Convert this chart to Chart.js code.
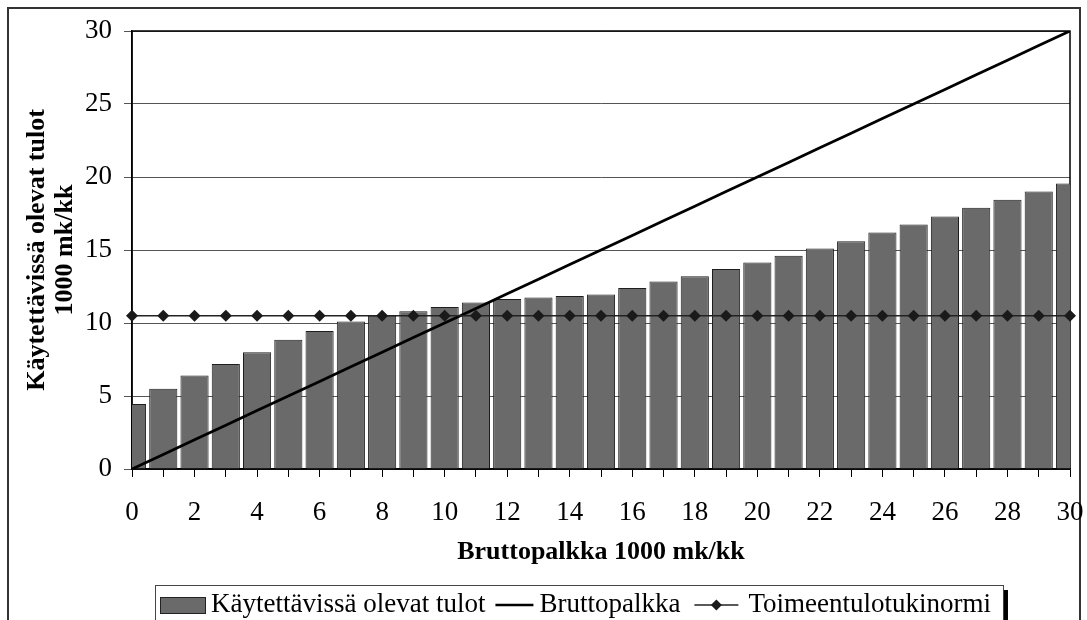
<!DOCTYPE html>
<html>
<head>
<meta charset="utf-8">
<script src="https://cdn.jsdelivr.net/npm/chart.js@4.4.1/dist/chart.umd.min.js"></script>
<style>
  html, body { margin: 0; padding: 0; background: #fff; }
  #wrap { width: 1087px; height: 620px; position: relative; }
</style>
</head>
<body>
<div id="wrap"><canvas id="kaavio"></canvas></div>
<script>
// bruttopalkka 1000 mk/kk (x-akseli)
const palkka = [0,1,2,3,4,5,6,7,8,9,10,11,12,13,14,15,16,17,18,19,20,21,22,23,24,25,26,27,28,29,30];
// käytettävissä olevat tulot
const tulot = [4.45,5.5,6.4,7.2,8.0,8.85,9.45,10.1,10.5,10.8,11.1,11.4,11.65,11.75,11.85,11.95,12.4,12.85,13.2,13.7,14.15,14.6,15.1,15.6,16.2,16.75,17.3,17.9,18.45,19.0,19.55];
// bruttopalkka viivana
const brutto = [0,1,2,3,4,5,6,7,8,9,10,11,12,13,14,15,16,17,18,19,20,21,22,23,24,25,26,27,28,29,30];
// toimeentulotukinormi
const normi = [10.5,10.5,10.5,10.5,10.5,10.5,10.5,10.5,10.5,10.5,10.5,10.5,10.5,10.5,10.5,10.5,10.5,10.5,10.5,10.5,10.5,10.5,10.5,10.5,10.5,10.5,10.5,10.5,10.5,10.5,10.5];
const sarjat = ['Käytettävissä olevat tulot', 'Bruttopalkka', 'Toimeentulotukinormi'];

const serif = '"Liberation Serif", "Times New Roman", serif';
const pisteet = arr => palkka.map((x, i) => ({ x: x, y: arr[i] }));

// kehys, piirtoalueen reunat ja selite
const kehys = {
  id: 'kehys',
  beforeDraw(chart) {
    const ctx = chart.ctx;
    ctx.save();
    ctx.fillStyle = '#fff';
    ctx.fillRect(0, 0, chart.width, chart.height);
    ctx.strokeStyle = '#333';
    ctx.lineWidth = 2;
    ctx.strokeRect(8, 8, 1072, 700);
    ctx.restore();
  },
  beforeDatasetsDraw(chart) {
    const a = chart.chartArea, ctx = chart.ctx;
    ctx.save();
    ctx.strokeStyle = '#000';
    ctx.lineWidth = 1.5;
    ctx.strokeRect(a.left, a.top, a.right - a.left, a.bottom - a.top);
    ctx.restore();
  },
  afterDraw(chart) {
    const ctx = chart.ctx;
    ctx.save();
    ctx.font = '27px ' + serif;
    ctx.textBaseline = 'middle';
    const y = 605;
    const w = sarjat.map(s => ctx.measureText(s).width);
    const loppu = 160 + 45 + 6 + w[0] + 10 + 38 + 6 + w[1] + 14 + 44 + 10 + w[2];
    // laatikko ja varjo
    ctx.fillStyle = '#000';
    ctx.fillRect(loppu + 12, 590, 5, 60);
    ctx.fillStyle = '#fff';
    ctx.fillRect(155, 585, loppu + 12 - 155, 60);
    ctx.strokeStyle = '#444';
    ctx.lineWidth = 1;
    ctx.strokeRect(155.5, 585.5, loppu + 12 - 155, 60);

    let x = 160;
    ctx.fillStyle = '#6a6a6a';
    ctx.fillRect(x, y - 8, 45, 16);
    ctx.strokeStyle = '#222';
    ctx.strokeRect(x + 0.5, y - 7.5, 45, 16);
    x += 45 + 6;
    ctx.fillStyle = '#000';
    ctx.fillText(sarjat[0], x, y);
    x += w[0] + 10;

    ctx.beginPath();
    ctx.moveTo(x, y); ctx.lineTo(x + 38, y);
    ctx.lineWidth = 2.5; ctx.strokeStyle = '#000'; ctx.stroke();
    x += 38 + 6;
    ctx.fillText(sarjat[1], x, y);
    x += w[1] + 14;

    ctx.beginPath();
    ctx.moveTo(x, y); ctx.lineTo(x + 44, y);
    ctx.lineWidth = 1.5; ctx.strokeStyle = '#222'; ctx.stroke();
    ctx.beginPath();
    ctx.moveTo(x + 22, y - 5.5); ctx.lineTo(x + 27.5, y); ctx.lineTo(x + 22, y + 5.5); ctx.lineTo(x + 16.5, y);
    ctx.closePath(); ctx.fillStyle = '#1a1a1a'; ctx.fill();
    x += 44 + 10;
    ctx.fillStyle = '#000';
    ctx.fillText(sarjat[2], x, y);
    ctx.restore();
  }
};

const ctx = document.getElementById('kaavio').getContext('2d');
const kaavio = new Chart(ctx, {
  type: 'bar',
  data: {
    datasets: [
      {
        type: 'line',
        label: sarjat[2],
        data: pisteet(normi),
        borderColor: '#222',
        borderWidth: 1.5,
        pointStyle: 'rectRot',
        pointRadius: 6,
        pointBackgroundColor: '#1a1a1a',
        pointBorderColor: '#1a1a1a',
        pointBorderWidth: 0,
        clip: false,
        order: 1
      },
      {
        type: 'line',
        label: sarjat[1],
        data: pisteet(brutto),
        borderColor: '#000',
        borderWidth: 2.8,
        pointRadius: 0,
        order: 2
      },
      {
        type: 'bar',
        label: sarjat[0],
        data: pisteet(tulot),
        backgroundColor: '#6a6a6a',
        borderColor: '#1e1e1e',
        borderWidth: 1,
        barPercentage: 1,
        categoryPercentage: 0.9,
        order: 3
      }
    ]
  },
  options: {
    responsive: true,
    maintainAspectRatio: false,
    animation: false,
    layout: { padding: { left: 0, top: 31, right: 0, bottom: 40 } },
    plugins: {
      legend: { display: false },
      tooltip: { enabled: false }
    },
    scales: {
      x: {
        type: 'linear',
        min: 0,
        max: 30,
        offset: false,
        afterFit: s => { s.height = 111; s.paddingRight = 17; s.paddingLeft = 0; },
        grid: { offset: false, drawOnChartArea: false, drawTicks: true, tickLength: 8, color: '#000' },
        border: { display: true, color: '#000', width: 1.5 },
        ticks: {
          stepSize: 1,
          autoSkip: false,
          maxRotation: 0,
          padding: 20,
          color: '#000',
          font: { family: serif, size: 27 },
          callback: v => (v % 2 === 0 ? v : '')
        },
        title: {
          display: true,
          text: 'Bruttopalkka 1000 mk/kk',
          color: '#000',
          font: { family: serif, size: 26, weight: 'bold', lineHeight: 1.2 },
          padding: { top: 0, bottom: 12 }
        }
      },
      y: {
        min: 0,
        max: 30,
        afterFit: s => { s.width = 132; },
        grid: { color: '#555', lineWidth: 1, tickLength: 8 },
        border: { display: true, color: '#000', width: 1.5 },
        ticks: {
          stepSize: 5,
          padding: 12,
          color: '#000',
          font: { family: serif, size: 27 }
        },
        title: {
          display: true,
          text: ['Käytettävissä olevat tulot', '1000 mk/kk'],
          color: '#000',
          font: { family: serif, size: 26, weight: 'bold', lineHeight: 1.05 },
          padding: { top: 24, bottom: 0 }
        }
      }
    }
  },
  plugins: [kehys]
});
</script>
</body>
</html>
